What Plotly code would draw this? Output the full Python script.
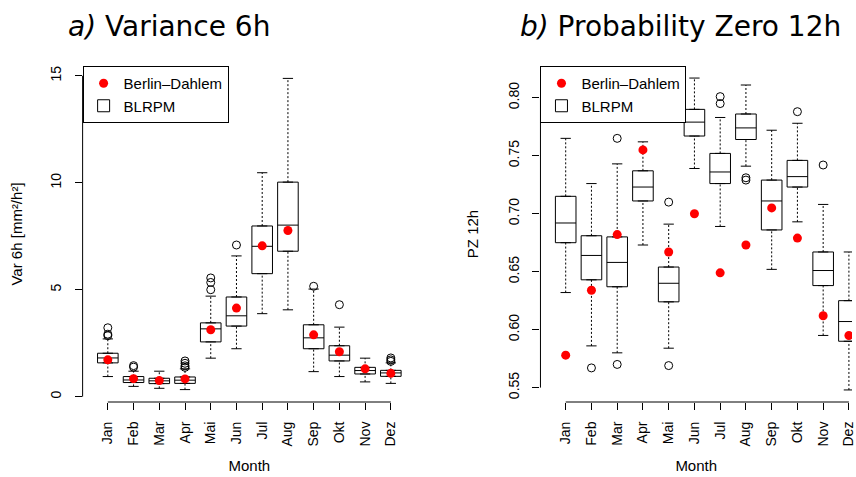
import plotly.graph_objects as go

months = ["Jan", "Feb", "Mar", "Apr", "Mai", "Jun", "Jul", "Aug", "Sep", "Okt", "Nov", "Dez"]
pos = list(range(1, 13))

# a) Variance 6h  (BLRPM simulation boxes + Berlin-Dahlem observation)
var_lo = [0.94, 0.48, 0.39, 0.33, 1.80, 2.24, 3.88, 4.06, 1.17, 0.94, 0.69, 0.62]
var_q1 = [1.58, 0.66, 0.61, 0.62, 2.56, 3.30, 5.75, 6.80, 2.24, 1.67, 1.06, 0.95]
var_med = [1.81, 0.78, 0.74, 0.77, 3.17, 3.78, 7.03, 8.02, 2.75, 1.94, 1.22, 1.11]
var_q3 = [2.03, 0.94, 0.86, 0.92, 3.45, 4.66, 7.98, 10.03, 3.36, 2.38, 1.37, 1.23]
var_hi = [2.70, 1.19, 1.19, 1.30, 4.70, 6.58, 10.47, 14.88, 5.03, 3.25, 1.80, 1.58]
var_out = [[2.85, 2.92, 3.22], [1.38, 1.45], [], [1.37, 1.44, 1.56, 1.67], [5.0, 5.34, 5.55],
           [7.09], [], [], [5.16], [4.30], [], [1.65, 1.72, 1.81]]
var_obs = [1.72, 0.84, 0.75, 0.83, 3.13, 4.14, 7.05, 7.77, 2.89, 2.10, 1.30, 1.09]

# b) Probability Zero 12h
pz_lo = [0.632, 0.586, 0.580, 0.673, 0.584, 0.739, 0.689, 0.741, 0.652, 0.693, 0.595, 0.548]
pz_q1 = [0.675, 0.643, 0.637, 0.711, 0.624, 0.767, 0.726, 0.764, 0.686, 0.723, 0.638, 0.590]
pz_med = [0.692, 0.664, 0.658, 0.723, 0.640, 0.779, 0.736, 0.774, 0.711, 0.732, 0.651, 0.607]
pz_q3 = [0.715, 0.681, 0.680, 0.737, 0.654, 0.790, 0.752, 0.786, 0.729, 0.746, 0.667, 0.625]
pz_hi = [0.765, 0.726, 0.743, 0.762, 0.691, 0.817, 0.783, 0.811, 0.772, 0.778, 0.708, 0.667]
pz_out = [[], [0.567], [0.765, 0.570], [], [0.710, 0.569], [], [0.801, 0.795], [0.731, 0.729],
          [], [0.788], [0.742], []]
pz_obs = [0.578, 0.634, 0.682, 0.755, 0.667, 0.700, 0.649, 0.673, 0.705, 0.679, 0.612, 0.595]

FONT = "Liberation Sans, Arial, sans-serif"
fig = go.Figure()


def add_panel(n, lo, q1, med, q3, hi, outl, obs, legend):
    xa, ya = ("x", "y") if n == 1 else ("x2", "y2")
    fig.add_trace(go.Box(
        x=pos, q1=q1, median=med, q3=q3, lowerfence=q1, upperfence=q3,
        width=0.8, fillcolor="white", line=dict(color="black", width=1),
        name="BLRPM", legend=legend, legendrank=2, xaxis=xa, yaxis=ya, hoverinfo="skip",
    ))
    # dashed whiskers + solid staples, R boxplot style
    wx, wy, sx, sy = [], [], [], []
    for m, a, b, c, d in zip(pos, lo, q1, q3, hi):
        wx += [m, m, None, m, m, None]
        wy += [a, b, None, c, d, None]
        sx += [m - 0.2, m + 0.2, None, m - 0.2, m + 0.2, None]
        sy += [a, a, None, d, d, None]
    fig.add_trace(go.Scatter(x=wx, y=wy, mode="lines", showlegend=False, xaxis=xa, yaxis=ya,
                             line=dict(color="black", width=1, dash="2px,2px"), hoverinfo="skip"))
    fig.add_trace(go.Scatter(x=sx, y=sy, mode="lines", showlegend=False, xaxis=xa, yaxis=ya,
                             line=dict(color="black", width=1), hoverinfo="skip"))
    ox = [m for m, vals in zip(pos, outl) for _ in vals]
    oy = [v for vals in outl for v in vals]
    fig.add_trace(go.Scatter(x=ox, y=oy, mode="markers", showlegend=False, xaxis=xa, yaxis=ya,
                             marker=dict(symbol="circle-open", size=8, color="black",
                                         line=dict(width=1))))
    fig.add_trace(go.Scatter(x=pos, y=obs, mode="markers", name="Berlin\u2013Dahlem",
                             legend=legend, legendrank=1, xaxis=xa, yaxis=ya,
                             marker=dict(symbol="circle", size=9, color="#ff0000")))


add_panel(1, var_lo, var_q1, var_med, var_q3, var_hi, var_out, var_obs, "legend")
add_panel(2, pz_lo, pz_q1, pz_med, pz_q3, pz_hi, pz_out, pz_obs, "legend2")

W, H = 856, 477
ybot, ytop = (H - 402) / H, (H - 66) / H
tick = dict(ticks="outside", ticklen=7, tickwidth=1, tickcolor="black", showline=False,
            showgrid=False, zeroline=False, tickfont=dict(size=14, color="black"))
xcommon = dict(tick, tickvals=pos, ticktext=months, tickangle=-90, ticklabelstandoff=6,
               ticklabeloverflow="allow",
               title=dict(text="Month", font=dict(size=15, color="black"), standoff=14))

fig.update_layout(
    width=W, height=H, margin=dict(l=0, r=0, t=0, b=0),
    paper_bgcolor="white", plot_bgcolor="white",
    font=dict(family=FONT, color="black"),
    xaxis=dict(xcommon, domain=[83 / W, 418 / W], range=[0.02, 12.98], anchor="y"),
    yaxis=dict(tick, domain=[ybot, ytop], range=[-0.25, 15.46], anchor="x",
               tickvals=[0, 5, 10, 15], tickangle=-90, ticklabelstandoff=8,
               title=dict(text="Var 6h [mm\u00b2/h\u00b2]", font=dict(size=15, color="black"), standoff=21)),
    # right panel runs past the picture edge, as in the original
    xaxis2=dict(xcommon, domain=[543 / W, 1.0], range=[0.02, 12.12], anchor="y2"),
    yaxis2=dict(tick, domain=[ybot, ytop], range=[0.5376, 0.8274], anchor="x2",
                tickvals=[0.55, 0.60, 0.65, 0.70, 0.75, 0.80], tickformat=".2f", tickangle=-90,
                ticklabelstandoff=8,
                title=dict(text="PZ 12h", font=dict(size=15, color="black"), standoff=23)),
    legend=dict(x=83 / W, y=ytop, xanchor="left", yanchor="top", bgcolor="white",
                bordercolor="black", borderwidth=1, font=dict(size=15), itemwidth=30),
    legend2=dict(x=543 / W, y=ytop, xanchor="left", yanchor="top", bgcolor="white",
                 bordercolor="black", borderwidth=1, font=dict(size=15), itemwidth=30),
    showlegend=True,
)

# R-style axis lines that only span the tick range
for xa, ya, yt in (("x", "y", [0, 15]), ("x2", "y2", [0.55, 0.80])):
    fig.add_shape(type="line", xref=xa, yref=ya + " domain", x0=1, x1=12, y0=0, y1=0,
                  line=dict(color="black", width=1))
    fig.add_shape(type="line", xref=xa + " domain", yref=ya, x0=0, x1=0, y0=yt[0], y1=yt[1],
                  line=dict(color="black", width=1))

for cx, txt in ((170, "<i>a)</i> Variance 6h"), (684, "<i>b)</i> Probability Zero 12h")):
    fig.add_annotation(x=cx / W, y=(H - 26.5) / H, xref="paper", yref="paper", text=txt,
                       showarrow=False, xanchor="center", yanchor="middle",
                       font=dict(family="DejaVu Sans, sans-serif", size=28, color="black"))

# drop the default 8px body margin so the figure fills the window exactly
fig.write_html("out.html", config={"displayModeBar": False},
               post_script="document.body.style.margin='0';")
